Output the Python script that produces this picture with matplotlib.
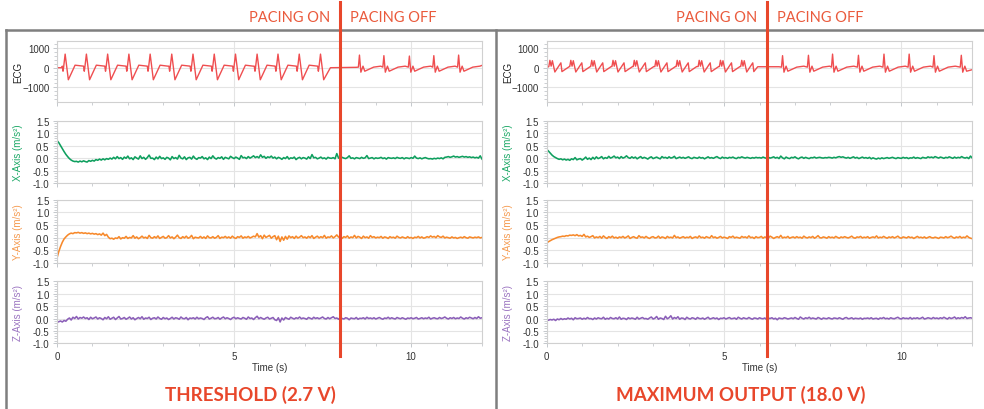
import matplotlib
matplotlib.use("Agg")
import matplotlib.pyplot as plt
import numpy as np
from matplotlib.lines import Line2D
from matplotlib.ticker import MultipleLocator, FixedLocator

# ---------------------------------------------------------------- data
# ECG (left panel = threshold 2.7 V, right panel = maximum output 18.0 V)
ecg_left_pace_times = [0.23, 0.83, 1.43, 2.03, 2.63, 3.24, 3.84, 4.44, 5.04, 5.65, 6.24, 6.84, 7.44]
ecg_left_pace_offsets = [-0.08, -0.06, -0.045, 0.0, 0.09, 0.28, 0.50]
ecg_left_pace_values = [80, -180, 0, 700, -620, 130, 80]
ecg_left_pace_end = 7.72
ecg_left_post_times = [8.54, 9.23, 9.95, 10.64, 11.34]
ecg_left_post_peaks = [650, 620, 600, 620, 650]
ecg_left_baseline = [(0.0, 0), (0.13, 0), (7.72, 0), (8.45, 20), (12.0, 120)]

ecg_right_pace_times = [0.09, 0.68, 1.27, 1.87, 2.47, 3.08, 3.68, 4.30, 4.90, 5.50]
ecg_right_pace_offsets = [-0.03, 0.0, 0.035, 0.07, 0.14, 0.31, 0.34, 0.55]
ecg_right_pace_values = [60, 380, 80, 360, -220, 250, -200, 60]
ecg_right_pace_end = 5.95
ecg_right_post_times = [6.65, 7.38, 8.06, 8.79, 9.51, 10.22, 10.92, 11.69]
ecg_right_post_peaks = [620, 640, 700, 640, 700, 700, 620, 640]
ecg_right_baseline = [(0.0, 0), (5.95, 50), (6.55, 50), (12.0, -100)]

ecg_post_offsets = [-0.03, 0.0, 0.04, 0.10, 0.15, 0.40, 0.60]
ecg_post_values = [30, 650, -230, 80, -180, 30, 80]

# accelerometer traces, hundredths of m/s^2, sampled every 0.05 s from 0 to 12 s
x_left_cms2 = [
    70, 62, 50, 38, 26, 15, 6, -2, -8, -12, -14, -13, -16, -12, -15, -11, -14, -16, -10, -13,
    -9, -12, -6, -9, -4, -8, -3, -7, -2, -5, 0, -4, 3, -3, 6, -2, 2, -5, 4, -1,
    8, -3, 1, -6, 5, 0, -4, 9, -2, 3, -5, 2, 12, -1, 0, -6, 4, -3, 7, -2,
    1, -5, 3, 0, -7, 6, -2, 2, -4, 11, 0, -3, 5, -6, 1, 3, -4, 8, -1, -5,
    2, 0, 6, -3, 1, -6, 4, -2, 9, 0, -4, 2, -1, 5, -5, 3, 0, -3, 7, 2,
    -2, 4, 0, -5, 10, 1, 3, -2, 6, 0, 4, 9, 2, 6, 1, 13, 3, 7, -1, 5,
    2, 8, 0, 4, -3, 3, 0, -5, 2, -2, 6, -4, 1, -1, 4, -6, 0, 3, -3, 2,
    0, -4, 5, -2, 14, 1, 3, -3, 0, 4, -2, 1, -4, 3, 0, -1, 2, -3, 18, 0,
    -1, 3, 0, -2, 2, 9, -1, 1, -3, 2, 0, -2, 3, -1, 1, 10, -2, 0, 2, -3,
    1, -1, 0, 3, -2, 1, -4, 2, 0, -1, 1, -2, 3, 0, -1, 2, -3, 1, 0, -2,
    2, -1, 8, 0, -2, 1, -3, 0, 2, -1, -3, -2, -4, -1, -3, 0, -2, 1, -3, 3,
    4, 6, 3, 5, 8, 4, 6, 3, 5, 7, 4, 6, 3, 5, 2, 4, 1, 3, 0, 9,
    -4]
y_left_cms2 = [
    -80, -55, -35, -18, -5, 3, 10, 15, 18, 16, 20, 19, 21, 18, 20, 17, 19, 16, 18, 15,
    17, 14, 16, 12, 15, 10, 18, 8, 13, 2, -4, -2, -6, -1, -3, 4, -5, 0, -2, 5,
    -3, 1, -1, 8, -2, 3, -4, 0, 6, -1, 2, -3, 9, 0, -2, 4, -1, 7, -3, 1,
    5, -2, 0, 8, -1, 3, -4, 2, 10, 0, -3, 4, -1, 6, -2, 1, 9, -4, 2, 0,
    -1, 5, -2, 3, -3, 7, 0, -1, 4, -2, 1, 8, -3, 2, 0, 5, -1, 3, -2, 6,
    0, -3, 4, 1, 7, -2, 3, 0, 5, -1, 2, 6, 3, 16, 2, 8, -4, 10, 1, 5,
    9, -2, 4, 8, -8, 6, -15, 3, -10, 5, -6, 7, 0, 4, -3, 6, -1, 2, 8, 0,
    3, -2, 5, 0, 8, -3, 2, 6, -1, 4, 0, 9, -2, 3, 1, 7, -1, 4, 11, 2,
    8, -3, 4, 1, 7, -2, 3, 0, 9, -1, 5, 2, -3, 6, 0, 3, -2, 8, 1, 4,
    -1, 2, 0, 5, -2, 3, 1, -3, 4, 0, 2, -2, 6, 1, -1, 3, 0, -2, 4, -1,
    1, -3, 2, 0, 5, -1, 3, -2, 0, 4, 1, 7, 2, 5, 0, 8, 3, 1, 6, -1,
    2, 0, -2, 3, -1, 1, -3, 0, 2, -1, 4, 0, -2, 3, 1, -1, 2, 0, 3, -1,
    1]
z_left_cms2 = [
    -15, -13, -10, -14, -8, -11, -3, 2, -6, 5, 0, 8, -2, 4, 1, 6, 0, 3, -4, 5,
    -1, 2, 6, -2, 3, 0, -5, 4, -1, 7, -3, 1, 5, -4, 2, 8, -2, 0, 4, -3,
    1, 6, -2, 3, -5, 0, 4, -1, 7, -3, 2, 0, 5, -4, 1, 3, -2, 6, 0, -3,
    4, -1, 2, -4, 0, 5, -2, 3, 1, -3, 6, 0, -1, 4, -5, 2, 0, 3, -2, 5,
    -1, 2, 0, -4, 3, 7, -2, 1, 5, -1, 0, 4, -3, 2, 6, -1, 3, 0, -4, 2,
    5, -1, 3, 0, -2, 4, 1, -3, 6, 0, 2, -4, 3, 9, -1, 4, 0, -3, 2, 5,
    -2, 1, 4, -5, -8, 3, -14, 2, -6, 4, 0, -3, 5, 1, -2, 3, 0, 6, -1, 2,
    0, -3, 4, 1, -2, 5, 0, 3, -1, 2, 6, 0, -2, 4, -1, 3, 7, 0, 2, -3,
    4, 0, -2, 3, 1, -5, 2, 0, -1, 4, -3, 1, 0, 3, -2, 5, 0, 2, -1, 3,
    -2, 1, 4, 0, -3, 2, 0, 5, -1, 3, 0, -2, 4, 1, -1, 3, 0, -3, 2, 0,
    3, -1, 1, 4, -2, 0, 3, -1, 2, 0, 5, -2, 1, 3, 0, -1, 4, 0, 2, 6,
    1, -2, 3, 0, 4, -1, 2, 0, 6, 1, -2, 3, 0, 5, 2, -1, 4, 0, 7, 1,
    3]
x_right_cms2 = [
    35, 28, 20, 12, 6, 2, -2, -5, -3, -7, -4, -8, -5, -9, -3, -6, 2, -7, -4, -2,
    -8, -3, 4, -5, 0, -6, 3, -4, 5, -2, 1, 6, -3, 2, -1, 7, 0, 3, 8, 1,
    4, -2, 6, 0, 3, 9, 2, -1, 5, 0, 4, -3, 2, 6, -1, 3, 0, -4, 2, 5,
    -2, 1, 4, 0, -3, 6, 1, 3, -1, 5, 0, 2, 7, -2, 1, 4, 0, 3, -1, 2,
    5, 0, -2, 3, 1, -1, 4, 0, 2, -3, 1, 5, 0, 2, -1, 3, 6, 1, -2, 4,
    0, 2, -1, 3, 1, 4, 0, -2, 3, 1, 5, 2, 0, 3, 1, -1, 2, 0, 3, 1,
    2, 0, 4, 1, -1, 3, 0, 2, 5, 0, 3, -2, 8, 1, -3, 4, 0, -2, 3, 1,
    5, 0, -3, 2, 4, -1, 3, 0, -2, 2, 1, 4, 0, 2, 3, 1, 0, 2, 1, 3,
    2, 0, 3, 1, 4, 6, 3, 5, 2, 0, 3, -1, 2, 5, 0, 3, -2, 1, 4, 0,
    2, -1, 3, -3, 1, -2, -4, 0, -3, 1, -2, 0, 2, -1, 1, 3, 0, -2, 2, 0,
    -1, 3, 0, 2, -2, 1, 0, 4, -1, 2, 0, -2, 3, 1, 0, 5, 2, 4, 1, 6,
    3, 0, 4, 2, -1, 3, 1, 5, 2, -1, 4, 0, 3, 1, 6, 2, 0, 3, -2, 8,
    0]
y_right_cms2 = [
    -20, -16, -12, -8, -5, -2, 1, 3, 4, 6, 5, 8, 7, 10, 9, 11, 8, 12, 7, 9,
    5, 13, 3, 6, 1, 4, 8, -1, 3, 0, 5, -2, 7, 1, -3, 4, 0, 6, -1, 2,
    -2, 3, 0, 5, -1, 2, 7, -3, 1, 4, 0, -2, 8, 1, 3, -1, 5, 0, -3, 2,
    4, -1, 0, 6, -2, 3, 1, -3, 5, 0, 2, -1, 9, 0, 3, -2, 1, 4, -1, 2,
    0, 5, -3, 1, 3, -1, 7, 0, 2, -2, 4, 1, -1, 8, 0, 3, -2, 1, 5, -1,
    2, 0, -3, 4, 1, 6, -1, 2, 0, -2, 5, 1, 3, -1, 7, 0, 2, -3, 4, 0,
    1, 5, -2, 3, 0, -1, 6, 2, -3, 1, 4, 0, 9, -1, 2, 0, 5, -2, 1, 3,
    -1, 4, 0, 2, -2, 6, 1, -1, 3, 0, 5, -2, 2, 8, 0, -1, 3, 1, -2, 4,
    0, 2, -1, 5, 1, -2, 3, 0, 4, 1, -1, 2, 6, 0, -2, 3, 1, 5, -1, 2,
    0, 4, -2, 1, 3, 0, 7, -1, 2, 0, 5, 1, -2, 3, 0, 4, -1, 2, 6, 0,
    -2, 3, 1, -1, 4, 0, 2, -3, 1, 5, 0, 2, -1, 3, -2, 1, 4, 0, -1, 2,
    0, -3, 2, 1, -1, 4, 0, 2, 6, 1, -2, 3, 0, 5, -1, 2, 0, 7, 1, -2,
    -4]
z_right_cms2 = [
    -5, -7, -4, -6, -3, -8, -2, -5, 0, -4, -1, -3, 2, -2, 1, -5, 3, -1, 0, 2,
    -3, 1, -2, 4, -1, 0, -4, 2, -2, 3, 0, -1, 5, -3, 1, -2, 4, 0, -1, 3,
    -2, 6, -3, 1, 0, -4, 3, -1, 2, 0, -3, 5, -2, 1, 4, -1, 0, -3, 2, 6,
    -2, 1, 8, -3, 2, 0, -4, 9, -1, 3, 11, -2, 4, 0, 7, -3, 2, 1, -4, 5,
    0, -2, 3, 1, -3, 4, 0, -1, 2, -3, 1, 5, -2, 0, 3, -1, 2, -4, 1, 0,
    3, -2, 1, 4, -1, 0, 2, -3, 5, 1, -2, 3, 0, -1, 4, 0, -3, 2, 1, -2,
    3, 0, -1, 2, -4, 1, 0, 3, -2, 1, -5, 2, 0, -1, 3, 1, -2, 0, 2, -1,
    4, 0, -3, 6, 1, -2, 3, 0, 5, -1, 2, 0, -2, 4, 1, -3, 2, 0, -1, 3,
    0, -2, 2, 1, -1, 3, 0, -3, 2, 4, -1, 0, 3, -2, 1, 0, -1, 2, -3, 1,
    0, 2, -1, 3, -2, 0, 1, -3, 2, 0, 4, -1, 1, -2, 3, 0, -1, 2, 5, 0,
    -2, 3, 0, 1, -1, 4, -2, 2, 0, 3, -1, 1, 5, -2, 0, 3, 1, -1, 4, 0,
    2, -1, 3, 0, 5, 1, -2, 4, 0, 2, 6, -1, 3, 0, 4, 1, 7, 0, 2, 3,
    1]

pacing_off_time = [8.0, 6.22]          # s, left / right panel
panel_titles = ["THRESHOLD (2.7 V)", "MAXIMUM OUTPUT (18.0 V)"]
row_labels = ["ECG", "X-Axis (m/s\u00b2)", "Y-Axis (m/s\u00b2)", "Z-Axis (m/s\u00b2)"]

# ---------------------------------------------------------------- style
W, H = 984, 410
RED = "#E8472B"
ECG_C = "#EF4E50"
TRACE_C = ["#0E9F5E", "#F7892B", "#8B5FB8"]
LABEL_C = ["#222222", "#1BA866", "#F59A4F", "#9A73C0"]
rows_px = [(41.7, 103.3), (121.7, 184.0), (200.7, 264.0), (282.3, 344.3)]
panels_px = [(57.0, 482.0), (546.7, 972.3)]
ylabel_x = [18.0, 508.0]
title_x = [250.8, 740.8]

fig = plt.figure(figsize=(W / 100, H / 100), dpi=100)
fig.patch.set_facecolor("white")


def fx(px):
    return px / W


def fy(py):
    return 1 - py / H


def build_ecg(pace_t, pace_off, pace_val, pace_end, post_t, post_peaks, baseline):
    pts = list(baseline)
    for t0 in pace_t:
        for o, v in zip(pace_off, pace_val):
            if t0 + o <= pace_end:
                pts.append((t0 + o, v))
    for t0, pk in zip(post_t, post_peaks):
        for o, v in zip(ecg_post_offsets, ecg_post_values):
            if t0 + o < 12.0:
                pts.append((t0 + o, pk if o == 0.0 else v))
    pts.sort(key=lambda p: p[0])
    return [p[0] for p in pts], [p[1] for p in pts]


ecg_data = [
    build_ecg(ecg_left_pace_times, ecg_left_pace_offsets, ecg_left_pace_values, ecg_left_pace_end,
              ecg_left_post_times, ecg_left_post_peaks, ecg_left_baseline),
    build_ecg(ecg_right_pace_times, ecg_right_pace_offsets, ecg_right_pace_values, ecg_right_pace_end,
              ecg_right_post_times, ecg_right_post_peaks, ecg_right_baseline),
]
accel_data = [
    [x_left_cms2, y_left_cms2, z_left_cms2],
    [x_right_cms2, y_right_cms2, z_right_cms2],
]


def style_axes(ax, is_ecg, show_x):
    ax.set_xlim(0, 12)
    ax.xaxis.set_major_locator(FixedLocator([0, 5, 10]))
    ax.xaxis.set_minor_locator(MultipleLocator(1))
    if is_ecg:
        ax.set_ylim(-1780, 1390)
        ax.yaxis.set_major_locator(FixedLocator([-1000, 0, 1000]))
        ax.yaxis.set_minor_locator(MultipleLocator(200))
    else:
        ax.set_ylim(-1.0, 1.5)
        ax.yaxis.set_major_locator(FixedLocator([-1.0, -0.5, 0.0, 0.5, 1.0, 1.5]))
        ax.yaxis.set_minor_locator(MultipleLocator(0.1))
        ax.set_yticklabels(["-1.0", "-0.5", "0.0", "0.5", "1.0", "1.5"])
    ax.grid(True, which="major", color="#E4E4E4", lw=0.8)
    ax.set_axisbelow(True)
    for s in ax.spines.values():
        s.set_color("#D0D0D0")
        s.set_linewidth(0.8)
    ax.tick_params(axis="both", which="major", direction="out", length=3, width=0.7,
                   color="#C4C8CC", labelsize=7, labelcolor="#333333", pad=2.5)
    ax.tick_params(axis="both", which="minor", direction="out", length=2, width=0.6,
                   color="#C4C8CC")
    ax.tick_params(axis="x", labelbottom=show_x)
    for lab in ax.get_xticklabels() + ax.get_yticklabels():
        lab.set_family(["Liberation Sans", "DejaVu Sans"])


for p, (x0, x1) in enumerate(panels_px):
    for r, (top, bot) in enumerate(rows_px):
        ax = fig.add_axes([fx(x0), fy(bot), (x1 - x0) / W, (bot - top) / H])
        if r == 0:
            tx, vy = ecg_data[p]
            ax.plot(tx, vy, color=ECG_C, lw=1.0)
        else:
            vals = np.array(accel_data[p][r - 1]) / 100.0
            ts = np.linspace(0, 12, len(vals))
            ax.plot(ts, vals, color=TRACE_C[r - 1], lw=1.15)
        style_axes(ax, r == 0, r == 3)
        fig.text(fx(ylabel_x[p]), fy((top + bot) / 2), row_labels[r], rotation=90,
                 ha="center", va="center", fontsize=7, color=LABEL_C[r],
                 family=["Liberation Sans", "DejaVu Sans"])
    # time label
    fig.text(fx((x0 + x1) / 2), fy(368.3), "Time (s)", ha="center", va="center",
             fontsize=7, color="#333333", family=["Liberation Sans", "DejaVu Sans"])
    # panel title
    fig.text(fx(title_x[p]), fy(395), panel_titles[p], ha="center", va="center",
             fontsize=13.5, fontweight="bold", color=RED, family=["Lato", "DejaVu Sans"])
    # pacing line and labels
    xl = x0 + pacing_off_time[p] / 12.0 * (x1 - x0)
    fig.text(fx(xl - 10), fy(17.5), "PACING ON", ha="right", va="center",
             fontsize=10.5, color="#EA5A3C", family=["Lato", "DejaVu Sans"])
    fig.text(fx(xl + 9.5), fy(17.5), "PACING OFF", ha="left", va="center",
             fontsize=10.5, color="#EA5A3C", family=["Lato", "DejaVu Sans"])

# gray frames
GRAY = "#7F7F7F"
fig.add_artist(Line2D([fx(6), fx(6)], [fy(30.5), fy(412)], color=GRAY, lw=1.8))
fig.add_artist(Line2D([fx(6), fx(986)], [fy(30.5), fy(30.5)], color=GRAY, lw=1.8))
fig.add_artist(Line2D([fx(495.5), fx(495.5)], [fy(30.5), fy(412)], color=GRAY, lw=1.8))

# red pacing lines (drawn over frames)
for p, (x0, x1) in enumerate(panels_px):
    xl = x0 + pacing_off_time[p] / 12.0 * (x1 - x0)
    fig.add_artist(Line2D([fx(xl), fx(xl)], [fy(3), fy(357)], color=RED, lw=2.2, zorder=10))

fig.savefig("out.png", dpi=100, facecolor="white")
